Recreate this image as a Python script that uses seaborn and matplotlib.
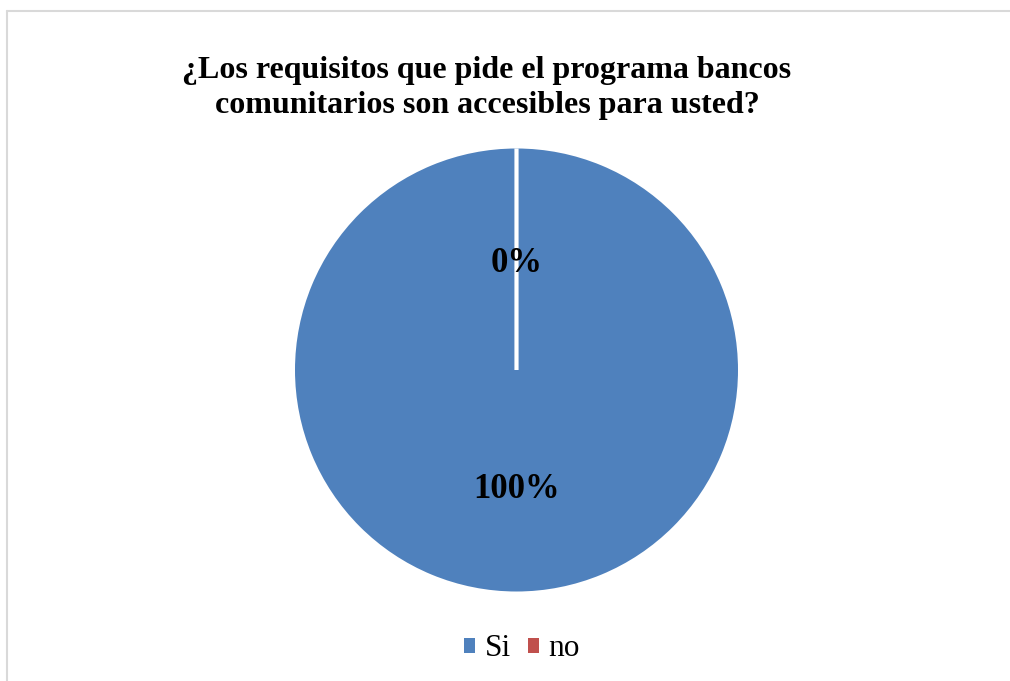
import matplotlib
matplotlib.use("Agg")
import matplotlib.pyplot as plt
from matplotlib.patches import Patch
from matplotlib.lines import Line2D
import seaborn as sns

# Survey answers
categories = ["Si", "no"]
shares = [100, 0]
colors = ["#4F81BD", "#C0504D"]
title = "¿Los requisitos que pide el programa bancos\ncomunitarios son accesibles para usted?"

sns.set_theme(style="white")
plt.rcParams["font.family"] = ["Liberation Serif", "DejaVu Serif"]

W, H = 1010, 681
fig = plt.figure(figsize=(W / 100, H / 100), dpi=100)
fig.patch.set_facecolor("white")

# Pie area (square box in pixels)
cx, cy, r = 516.5, 370, 221.5
ax = fig.add_axes([(cx - r) / W, (H - cy - r) / H, 2 * r / W, 2 * r / H])

wedges, texts, autotexts = ax.pie(
    shares,
    colors=colors,
    startangle=90,
    counterclock=False,
    autopct="%.0f%%",
    pctdistance=0.51,
    textprops=dict(fontsize=25, fontweight="bold", color="black"),
)
ax.set_xlim(-1, 1)
ax.set_ylim(-1, 1)
ax.set_axis_off()

# Slice borders: the empty slice shows up as a white separator
for w, v in zip(wedges, shares):
    if v == 0:
        w.set_edgecolor("white")
        w.set_linewidth(3)
        w.set_zorder(3)
    else:
        w.set_edgecolor("none")
# Percent labels sit slightly lower on their glyph centre
for t in autotexts:
    t.set_zorder(5)
    t.set_va("center_baseline")
    t.set_y(t.get_position()[1] - 0.012)

fig.text(487 / W, 1 - 88 / H, title, ha="center", va="center", color="black",
         fontsize=23, fontweight="bold", linespacing=1.3)

handles = [Patch(facecolor=c, edgecolor="none", label=lab)
           for c, lab in zip(colors, categories)]
fig.legend(handles=handles, loc="center", bbox_to_anchor=(522 / W, 1 - 649 / H),
           ncol=2, frameon=False, fontsize=22.5, handlelength=0.35, handleheight=0.35,
           handletextpad=0.3, columnspacing=0.55, labelcolor="black")

# Light chart-area border (top and left edges)
fig.add_artist(Line2D([7 / W, 1], [1 - 11 / H, 1 - 11 / H], color="#D9D9D9", lw=1.5,
                      transform=fig.transFigure))
fig.add_artist(Line2D([7 / W, 7 / W], [0, 1 - 11 / H], color="#D9D9D9", lw=1.5,
                      transform=fig.transFigure))

fig.savefig("out.png", dpi=100, facecolor="white")
